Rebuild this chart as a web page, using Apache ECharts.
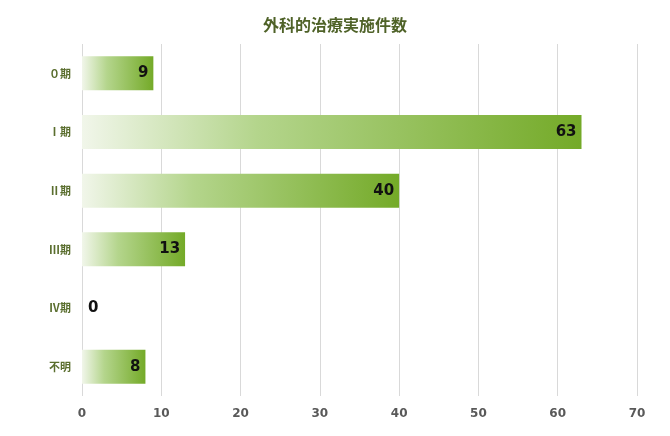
<!DOCTYPE html>
<html>
<head>
<meta charset="utf-8">
<script src="https://cdn.jsdelivr.net/npm/echarts@6/dist/echarts.min.js"></script>
<style>
  html, body { margin: 0; padding: 0; background: #fff; }
  #chart { width: 670px; height: 436px; }
</style>
</head>
<body>
<div id="chart"></div>
<script>
// 病期ごとの件数
const stages = ['０期', 'Ⅰ期', 'Ⅱ期', 'Ⅲ期', 'Ⅳ期', '不明']
const counts = [9, 63, 40, 13, 0, 8]
const xTicks = [0, 10, 20, 30, 40, 50, 60, 70]

const chart = echarts.init(document.getElementById('chart'))

const barGradient = new echarts.graphic.LinearGradient(0, 0, 1, 0, [
  { offset: 0, color: '#f1f6ea' },
  { offset: 0.35, color: '#b4d58c' },
  { offset: 1, color: '#74aa28' }
])

chart.setOption({
  animation: false,
  title: {
    text: '外科的治療実施件数',
    left: 'center',
    top: 12,
    textStyle: { color: '#4f6228', fontSize: 16, fontWeight: 'bold', fontFamily: 'Noto Sans CJK JP' }
  },
  grid: { left: 82, right: 33, top: 44, bottom: 40, containLabel: false },
  xAxis: {
    type: 'value',
    min: xTicks[0],
    max: xTicks[xTicks.length - 1],
    interval: 10,
    axisLine: { show: false },
    axisTick: { show: false },
    splitLine: { lineStyle: { color: '#d9d9d9', width: 1 } },
    axisLabel: { color: '#595959', fontSize: 12, fontWeight: 'bold', margin: 12, fontFamily: 'DejaVu Sans' }
  },
  yAxis: {
    type: 'category',
    data: stages,
    inverse: true,
    axisLine: { show: false },
    axisTick: { show: false },
    axisLabel: { color: '#5a6e2e', fontSize: 11, fontWeight: 'bold', margin: 11, fontFamily: 'Noto Sans CJK JP' }
  },
  series: [{
    type: 'bar',
    barWidth: 34,
    data: counts.map(v => v === 0
      ? { value: v, label: { position: 'right', distance: 6 } }
      : v),
    itemStyle: { color: barGradient },
    label: {
      show: true,
      position: 'insideRight',
      distance: 5,
      color: '#111',
      fontSize: 15,
      fontWeight: 'bold',
      fontFamily: 'DejaVu Sans'
    }
  }]
})
</script>
</body>
</html>
